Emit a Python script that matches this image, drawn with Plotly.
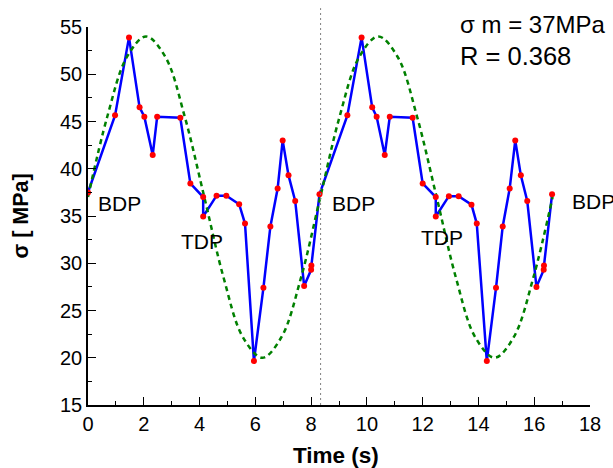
import plotly.graph_objects as go

# Measured stress history (two loading cycles)
time_s = [0.00, 0.97, 1.47, 1.85, 2.02, 2.32, 2.48, 3.31, 3.67, 4.13, 4.13, 4.61, 4.96,
          5.42, 5.63, 5.95, 6.29, 6.54, 6.80, 6.98, 7.19, 7.43, 7.75, 8.00, 8.01, 8.30,
          9.30, 9.81, 10.19, 10.35, 10.64, 10.82, 11.64, 12.00, 12.47, 12.47, 12.94,
          13.29, 13.75, 13.94, 14.30, 14.63, 14.87, 15.12, 15.32, 15.52, 15.75, 16.08,
          16.34, 16.35, 16.64]
stress_mpa = [37.5, 45.65, 53.9, 46.5, 45.5, 41.45, 45.5, 45.4, 38.45, 37.0, 34.95, 37.15, 37.15,
              36.25, 34.2, 19.65, 27.4, 33.9, 37.9, 43.0, 39.3, 36.6, 27.6, 29.3, 29.75, 37.3,
              45.65, 53.9, 46.5, 45.5, 41.45, 45.5, 45.4, 38.45, 37.0, 34.95, 37.1,
              37.1, 36.2, 34.2, 19.65, 27.4, 33.9, 37.9, 43.0, 39.3, 36.6, 27.5,
              29.3, 29.75, 37.3]

# Equivalent constant-amplitude cycle (sigma_m = 37 MPa, R = 0.368)
fit_t = [0.00, 0.69, 1.39, 2.08, 2.78, 3.47, 4.17, 4.86, 5.55, 6.25, 6.94, 7.64, 8.33,
         9.02, 9.72, 10.41, 11.11, 11.80, 12.50, 13.19, 13.88, 14.58, 15.27, 15.97, 16.66]
fit_s = [37.0, 45.5, 51.8, 54.0, 51.8, 45.5, 37.0, 28.5, 22.2, 20.0, 22.2, 28.5, 37.0,
         45.5, 51.8, 54.0, 51.8, 45.5, 37.0, 28.5, 22.2, 20.0, 22.2, 28.5, 37.0]

cycle_split = 8.34

# Dead-point labels: (text, time, stress) at the label's left edge
point_labels = [("BDP", 0.3, 36.3), ("TDP", 3.28, 32.3), ("BDP", 8.69, 36.3),
                ("TDP", 11.88, 32.7), ("BDP", 17.3, 36.5)]

x_ticks = list(range(0, 19, 2))
y_ticks = list(range(15, 56, 5))

FONT = "Liberation Sans, Arial, sans-serif"

fig = go.Figure()
fig.add_trace(go.Scatter(x=time_s, y=stress_mpa, mode="lines",
                         line=dict(color="#0000ff", width=2.5), hoverinfo="skip"))
fig.add_trace(go.Scatter(x=fit_t, y=fit_s, mode="lines",
                         line=dict(color="#008000", width=2.5, dash="5px,4px",
                                   shape="spline", smoothing=1.0)))
fig.add_trace(go.Scatter(x=time_s, y=stress_mpa, mode="markers",
                         marker=dict(color="#ff0000", size=6)))

fig.add_shape(type="line", xref="x", yref="paper", x0=cycle_split, x1=cycle_split,
              y0=0, y1=1.05, line=dict(color="#808080", width=1, dash="2px,3px"))

for text, tx, sy in point_labels:
    fig.add_annotation(x=tx, y=sy, text=text, showarrow=False, xanchor="left",
                       yanchor="middle", font=dict(size=21, color="black", family=FONT))

fig.add_annotation(xref="paper", yref="paper", x=(466 - 88) / 513, y=(405 - 25) / 378,
                   text="σ m = 37MPa", showarrow=False, xanchor="left", yanchor="middle",
                   font=dict(size=24, color="black", family=FONT))
fig.add_annotation(xref="paper", yref="paper", x=(466 - 88) / 513, y=(405 - 56) / 378,
                   text="R = 0.368", showarrow=False, xanchor="left", yanchor="middle",
                   font=dict(size=25.5, color="black", family=FONT))

# Axis titles
fig.add_annotation(xref="paper", yref="paper", x=(341 - 88) / 513, y=(405 - 455) / 378,
                   text="<b>Time (s)</b>", showarrow=False, xanchor="center", yanchor="middle",
                   font=dict(size=22.5, color="black", family=FONT))
fig.add_annotation(xref="paper", yref="paper", x=(20 - 88) / 513, y=0.5,
                   text="<b>σ [ MPa]</b>", showarrow=False, textangle=-90,
                   xanchor="center", yanchor="middle",
                   font=dict(size=21.5, color="black", family=FONT))

axis_common = dict(showgrid=False, zeroline=False, showline=True, linecolor="black",
                   linewidth=1.5, ticks="inside", ticklen=8, tickwidth=1.2,
                   tickcolor="black", tickfont=dict(size=20, color="black", family=FONT),
                   mirror=False)

fig.update_xaxes(range=[0, 18], tickvals=x_ticks, ticktext=[str(v) for v in x_ticks],
                 minor=dict(dtick=1, ticks="inside", ticklen=4, tickcolor="black", tickwidth=1.2),
                 **axis_common)
fig.update_yaxes(range=[15, 55], tickvals=y_ticks, ticktext=[str(v) for v in y_ticks],
                 minor=dict(dtick=2.5, ticks="inside", ticklen=4, tickcolor="black", tickwidth=1.2),
                 **axis_common)

fig.update_layout(width=613, height=468, showlegend=False,
                  margin=dict(l=88, r=12, t=27, b=63),
                  paper_bgcolor="white", plot_bgcolor="white",
                  font=dict(family=FONT, color="black"))

fig.write_html("out.html")
